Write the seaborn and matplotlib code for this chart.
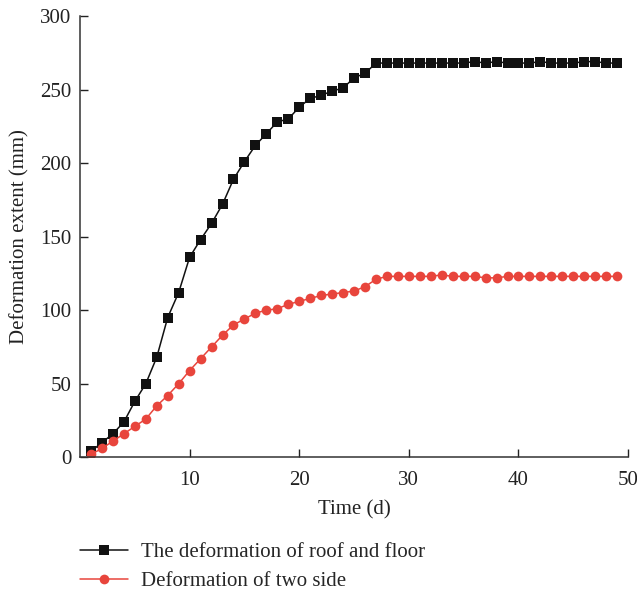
import matplotlib
matplotlib.use("Agg")
import matplotlib.pyplot as plt
import seaborn as sns
import pandas as pd

days = list(range(1, 50))
roof_floor = [4, 10, 16, 24, 38, 50, 68, 95, 112, 136,
              148, 159, 172, 189, 201, 212, 220, 228, 230, 238,
              244, 246, 249, 251, 258, 261, 268, 268, 268, 268,
              268, 268, 268, 268, 268, 269, 268, 269, 268, 268,
              268, 269, 268, 268, 268, 269, 269, 268, 268]
two_side = [2, 6, 11, 16, 21, 26, 35, 42, 50, 59,
            67, 75, 83, 90, 94, 98, 100, 101, 104, 106,
            108, 110, 111, 112, 113, 116, 121, 123, 123, 123,
            123, 123, 124, 123, 123, 123, 122, 122, 123, 123,
            123, 123, 123, 123, 123, 123, 123, 123, 123]
series_names = ["The deformation of roof and floor", "Deformation of two side"]
x_ticks = [10, 20, 30, 40, 50]
y_ticks = [0, 50, 100, 150, 200, 250, 300]

df = pd.DataFrame({
    "Time": days * 2,
    "Value": roof_floor + two_side,
    "Series": [series_names[0]] * len(days) + [series_names[1]] * len(days),
})

sns.set_style("ticks")
plt.rcParams["font.family"] = ["Liberation Serif", "DejaVu Serif"]

fig = plt.figure(figsize=(6.37, 5.9), dpi=100)
ax = fig.add_axes([0.1256, 0.2249, 0.8604, 0.748])

palette = {series_names[0]: "#111111", series_names[1]: "#e8453c"}
markers = {series_names[0]: "s", series_names[1]: "o"}
sns.lineplot(data=df, x="Time", y="Value", hue="Series", style="Series",
             palette=palette, markers=markers, dashes=False,
             markersize=7, markeredgewidth=0, linewidth=1.1, ax=ax)

ax.set_xlim(0, 50)
ax.set_ylim(0, 300)
ax.set_xticks(x_ticks)
ax.set_yticks(y_ticks)
ax.tick_params(direction="in", length=6, width=1, labelsize=15, colors="#222222")
ax.tick_params(axis="x", pad=10)
ax.tick_params(axis="y", pad=6)
for s in ["top", "right"]:
    ax.spines[s].set_visible(False)
for s in ["left", "bottom"]:
    ax.spines[s].set_linewidth(1.1)
    ax.spines[s].set_color("#333333")

ax.set_xlabel("Time (d)", fontsize=15, labelpad=7, color="#222222")
ax.set_ylabel("Deformation extent (mm)", fontsize=15, labelpad=8, color="#222222")

handles, labels = ax.get_legend_handles_labels()
ax.get_legend().remove()
fig.legend(handles, labels, loc="upper left", bbox_to_anchor=(0.113, 0.095),
           frameon=False, fontsize=15, handlelength=2.3, handletextpad=0.6,
           labelspacing=0.45, borderaxespad=0)

fig.savefig("out.png", dpi=100)
